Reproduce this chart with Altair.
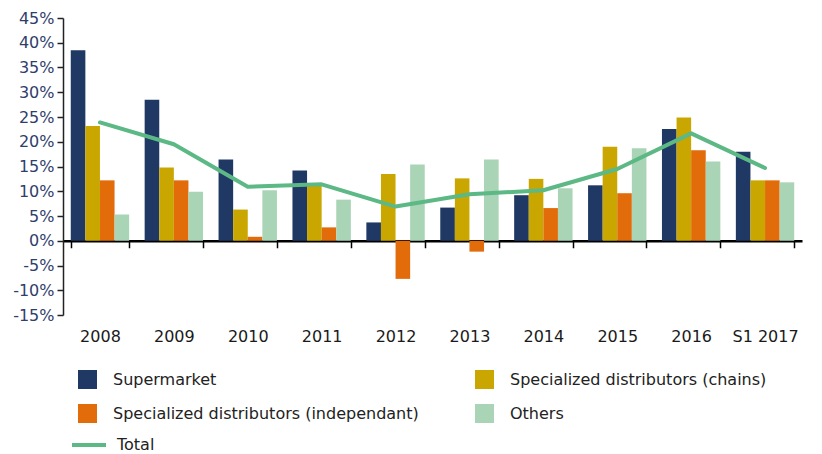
import altair as alt
import pandas as pd

years = ["2008", "2009", "2010", "2011", "2012", "2013", "2014", "2015", "2016", "S1 2017"]
series_names = [
    "Supermarket",
    "Specialized distributors (chains)",
    "Specialized distributors (independant)",
    "Others",
]
supermarket = [38.5, 28.5, 16.4, 14.2, 3.7, 6.7, 9.2, 11.2, 22.6, 18.0]
chains = [23.2, 14.8, 6.3, 11.3, 13.5, 12.6, 12.5, 19.0, 24.9, 12.2]
independant = [12.2, 12.2, 0.8, 2.7, -7.7, -2.2, 6.6, 9.6, 18.3, 12.2]
others = [5.3, 9.9, 10.2, 8.3, 15.4, 16.4, 10.6, 18.7, 16.0, 11.8]
total = [23.9, 19.5, 10.9, 11.4, 6.9, 9.4, 10.2, 14.5, 21.7, 14.7]
y_ticks = [-15, -10, -5, 0, 5, 10, 15, 20, 25, 30, 35, 40, 45]

series_colors = ["#1f3864", "#c9a700", "#e26b0a", "#a9d4b5"]
total_color = "#5cb884"

rows = []
for name, vals in zip(series_names, [supermarket, chains, independant, others]):
    for yr, v in zip(years, vals):
        rows.append({"Year": yr, "Series": name, "Value": v})
bars_df = pd.DataFrame(rows)
total_df = pd.DataFrame({"Year": years, "Line": ["Total"] * len(years), "Value": total})

FONT = "DejaVu Sans"
W, H = 739, 297

x_scale = alt.Scale(domain=years, paddingInner=0.21, paddingOuter=0.105)
y_scale = alt.Scale(domain=[-15, 45], nice=False, zero=False)

x_axis = alt.Axis(title=None, labelAngle=0, offset=-H * 0.25, tickBand="extent",
                  domainColor="#000000", domainWidth=2.5,
                  tickColor="#000000", tickWidth=1.5, tickSize=7,
                  labelPadding=81, labelFontSize=16, labelColor="#1a1a1a",
                  labelFont=FONT)
y_axis = alt.Axis(title=None, values=y_ticks, labelExpr="datum.value + '%'",
                  grid=False, domainColor="#222222", domainWidth=1.5,
                  tickColor="#222222", tickWidth=1.5, tickSize=6,
                  labelOverlap=False,
                  labelPadding=3, labelFontSize=16, labelColor="#2f3e6b",
                  labelFont=FONT)

bars = alt.Chart(bars_df).mark_bar().encode(
    x=alt.X("Year:N", scale=x_scale, sort=years, axis=x_axis),
    xOffset=alt.XOffset("Series:N", sort=series_names,
                        scale=alt.Scale(domain=series_names, paddingInner=0, paddingOuter=0)),
    y=alt.Y("Value:Q", scale=y_scale, axis=y_axis),
    color=alt.Color("Series:N", sort=series_names,
                    scale=alt.Scale(domain=series_names, range=series_colors),
                    legend=alt.Legend(title=None, orient="none", legendX=15, legendY=352,
                                      direction="horizontal",
                                      columns=2, columnPadding=56, rowPadding=15,
                                      symbolType="square", symbolSize=361,
                                      symbolStrokeWidth=0, labelOffset=16,
                                      labelFontSize=16, labelColor="#222222",
                                      labelFont=FONT, padding=0, labelLimit=400)),
)

line = alt.Chart(total_df).mark_line(strokeWidth=4, strokeCap="round", strokeJoin="round").encode(
    x=alt.X("Year:N", scale=x_scale, sort=years, axis=x_axis),
    y=alt.Y("Value:Q", scale=y_scale, axis=y_axis),
    stroke=alt.Stroke("Line:N", scale=alt.Scale(domain=["Total"], range=[total_color]),
                      legend=alt.Legend(title=None, orient="none", legendX=7, legendY=408,
                                        symbolType="stroke", symbolSize=1156,
                                        symbolStrokeWidth=4, labelOffset=9,
                                        labelFontSize=16, labelColor="#222222",
                                        labelFont=FONT, padding=0)),
)

chart = alt.layer(bars, line).properties(
    width=W, height=H,
    autosize=alt.AutoSizeParams(type="none"),
    padding={"left": 55, "top": 10, "right": 10, "bottom": 140},
).configure_view(stroke=None).configure_axis(labelOverlap=False)

chart.save("out.html", embed_options={"renderer": "svg", "actions": False})
